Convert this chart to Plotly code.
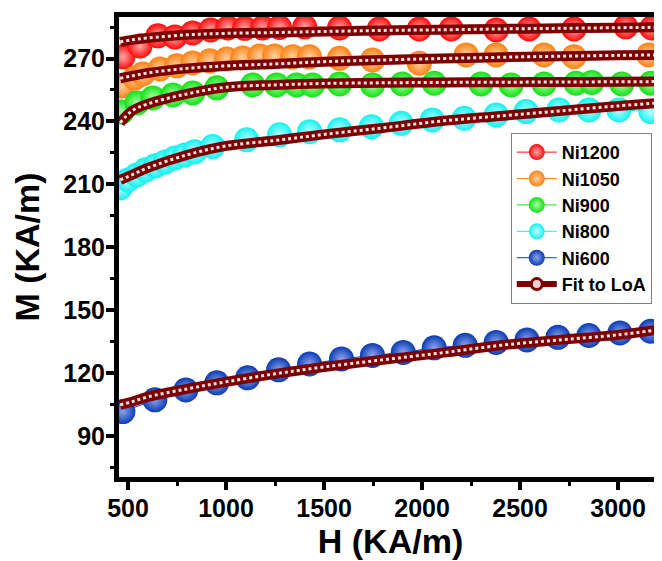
import plotly.graph_objects as go

# ---------------- data ----------------
H_ni1200 = [474, 561, 652, 739, 830, 922, 1009, 1095, 1187, 1273, 1401,
            1579, 1782, 1986, 2149, 2378, 2546, 2775, 3039, 3172]
M_ni1200 = [270.8, 276.0, 280.8, 280.3, 282.2, 283.6, 284.6, 284.4, 284.6, 284.8, 285.1,
            284.6, 284.1, 284.1, 284.1, 283.6, 284.1, 284.1, 285.1, 284.6]

H_ni1050 = [469, 535, 576, 663, 749, 830, 917, 1004, 1085, 1172, 1248, 1340, 1426,
            1579, 1747, 1986, 2225, 2378, 2622, 2775, 3156]
M_ni1050 = [256.9, 260.7, 262.6, 265.0, 266.5, 267.9, 268.9, 269.8, 270.3, 271.2, 271.2, 270.8, 270.8,
            270.1, 269.3, 267.8, 271.7, 271.7, 271.7, 270.9, 271.7]

H_ni900 = [469, 546, 627, 729, 830, 953, 1136, 1258, 1360, 1441,
           1579, 1747, 1899, 2062, 2301, 2454, 2622, 2785, 2866, 3019, 3167]
M_ni900 = [244.5, 248.8, 251.2, 252.6, 253.6, 256.0, 257.4, 257.4, 257.4, 257.4,
           257.9, 257.4, 257.9, 258.2, 257.9, 257.4, 257.9, 258.2, 258.6, 257.9, 258.2]

H_ni800 = [459, 500, 545, 590, 640, 690, 740, 790, 840, 932, 1105, 1273, 1426,
           1579, 1742, 1894, 2052, 2215, 2378, 2530, 2698, 2851, 3004, 3167]
M_ni800 = [208.3, 212.1, 214.5, 216.9, 218.8, 220.7, 222.6, 224.0, 225.5, 228.0, 231.2, 233.6, 235.1,
           236.0, 237.5, 239.1, 240.7, 241.5, 243.1, 244.7, 245.5, 245.5, 245.5, 244.7]

H_ni600 = [474, 637, 795, 953, 1110, 1268, 1426, 1589, 1747, 1904, 2062, 2220,
           2378, 2535, 2693, 2851, 3009, 3166]
M_ni600 = [101.6, 107.2, 111.9, 115.3, 117.7, 121.5, 124.3, 126.7, 128.4, 129.8, 132.0, 133.2,
           134.6, 135.8, 137.0, 137.9, 139.1, 139.9]

# Law of approach fits
H_fit = [460, 520, 600, 800, 1000, 1250, 1500, 1800, 2100, 2400, 2700, 3000, 3200]
fit_ni1200 = [277.9, 278.9, 279.8, 281.3, 282.0, 282.4, 282.9, 283.4, 283.7, 284.1, 284.4, 284.7, 284.9]
fit_ni1050 = [260.6, 261.7, 263.1, 265.3, 266.5, 267.4, 268.5, 269.3, 270.0, 270.6, 271.1, 271.5, 271.7]
fit_ni900 = [239.3, 245.0, 248.3, 253.1, 256.3, 257.4, 258.1, 258.4, 258.6, 258.7, 258.8, 258.9, 259.0]
fit_ni800 = [212.1, 214.5, 217.8, 224.0, 228.3, 230.9, 233.8, 236.9, 240.2, 242.6, 245.0, 247.4, 248.8]
fit_ni600 = [104.8, 106.3, 108.6, 112.4, 115.8, 119.6, 122.9, 126.3, 129.6, 133.2, 135.8, 138.2, 140.6]

series = [
    ("Ni1200", H_ni1200, M_ni1200, "#ff0a0a", "#ffa8a8"),
    ("Ni1050", H_ni1050, M_ni1050, "#fb8214", "#ffd0a0"),
    ("Ni900", H_ni900, M_ni900, "#14e014", "#a8ffa8"),
    ("Ni800", H_ni800, M_ni800, "#14f0f0", "#c0ffff"),
    ("Ni600", H_ni600, M_ni600, "#0a3cb4", "#8ea4ec"),
]
fits = [fit_ni1200, fit_ni1050, fit_ni900, fit_ni800, fit_ni600]

MAROON = "#7d0000"
FONT = "Arial, Liberation Sans, Helvetica, sans-serif"

fig = go.Figure()

for name, hx, my, col, hi in series:
    fig.add_trace(go.Scatter(
        x=hx, y=my, name=name, mode="lines+markers",
        line=dict(color=col, width=1),
        marker=dict(size=25, color=col, line=dict(width=0),
                    gradient=dict(type="radial", color=hi)),
    ))

for f in fits:
    fig.add_trace(go.Scatter(
        x=H_fit, y=f, mode="lines", showlegend=False, hoverinfo="skip",
        line=dict(color=MAROON, width=10, shape="spline"),
    ))
    fig.add_trace(go.Scatter(
        x=H_fit, y=f, mode="lines", showlegend=False, hoverinfo="skip",
        line=dict(color="#f8e4e4", width=3, shape="spline", dash="3px,3px"),
    ))

# legend entry for the fit
fig.add_trace(go.Scatter(
    x=[None], y=[None], name="Fit to LoA", mode="lines+markers",
    line=dict(color=MAROON, width=6),
    marker=dict(size=11, color="#f0d0d0", line=dict(color=MAROON, width=3)),
))

axis_common = dict(
    showline=True, linecolor="black", linewidth=5,
    ticks="outside", ticklen=8, tickwidth=4, tickcolor="black",
    showgrid=False, zeroline=False, automargin=False,
    tickfont=dict(family=FONT, size=25, color="black", weight="bold"),
)

# the page body has an 8px default margin, so the figure is made 8px smaller
fig.update_layout(
    template="none",
    width=654, height=553,
    margin=dict(l=111, r=0, t=9, b=84, autoexpand=False),
    paper_bgcolor="white", plot_bgcolor="white",
    font=dict(family=FONT, color="black"),
    showlegend=True,
    legend=dict(
        x=0.7215, y=0.748, xanchor="left", yanchor="top",
        bgcolor="white", bordercolor="#808080", borderwidth=1,
        font=dict(family=FONT, size=18, color="black", weight="bold"),
        itemwidth=40, tracegroupgap=0,
    ),
    xaxis=dict(
        range=[454, 3224], tick0=0, dtick=500, mirror=True,
        minor=dict(ticks="outside", dtick=250, ticklen=4, tickwidth=3, tickcolor="black"),
        ticklabelstandoff=-3,
        title=dict(text="H (KA/m)", font=dict(family=FONT, size=34, color="black", weight="bold"),
                   standoff=0),
        **axis_common,
    ),
    yaxis=dict(
        range=[70.4, 289.8], tick0=0, dtick=30,
        minor=dict(ticks="outside", dtick=15, ticklen=4, tickwidth=3, tickcolor="black"),
        ticklabelstandoff=-4,
        title=dict(text="M (KA/m)", font=dict(family=FONT, size=34, color="black", weight="bold"),
                   standoff=15),
        **axis_common,
    ),
)

fig.write_html("out.html")
